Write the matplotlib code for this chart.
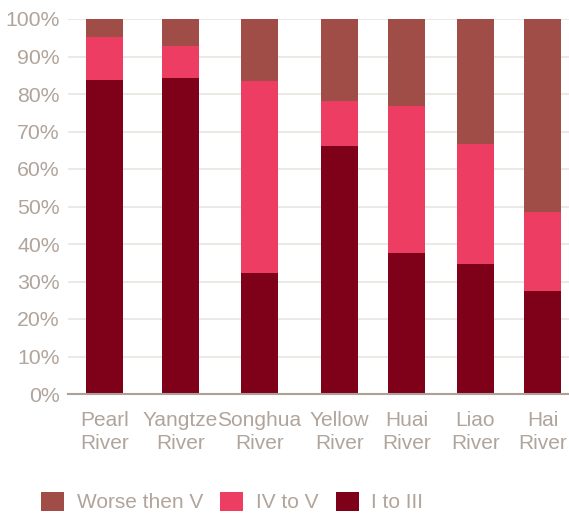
import matplotlib
matplotlib.use("Agg")
import matplotlib.pyplot as plt
from matplotlib.patches import Patch

rivers = ["Pearl\nRiver", "Yangtze\nRiver", "Songhua\nRiver", "Yellow\nRiver",
          "Huai\nRiver", "Liao\nRiver", "Hai\nRiver"]
grade_1_3 = [83.7, 84.3, 32.3, 66.1, 37.6, 34.7, 27.5]
grade_4_5 = [11.5, 8.6, 51.2, 12.0, 39.2, 32.0, 21.0]
worse_5 = [100 - a - b for a, b in zip(grade_1_3, grade_4_5)]

series_names = ["Worse then V", "IV to V", "I to III"]
colors = {"I to III": "#7e0019", "IV to V": "#ee3d63", "Worse then V": "#a14d47"}

# horizontal layout of the bars (axis units)
bar_pos = [36.5, 112.5, 191.5, 271.5, 338.5, 407.5, 474.5]
bar_width = 37

text_color = "#b0a49b"
plt.rcParams["font.family"] = ["Liberation Sans", "DejaVu Sans"]

W, H = 569, 513
fig = plt.figure(figsize=(W / 100, H / 100), dpi=100)
ax = fig.add_axes([68 / W, 1 - 394 / H, (W - 68) / W, (394 - 19) / H])

ax.bar(bar_pos, grade_1_3, width=bar_width, color=colors["I to III"], zorder=3)
ax.bar(bar_pos, grade_4_5, width=bar_width, bottom=grade_1_3,
       color=colors["IV to V"], zorder=3)
base = [a + b for a, b in zip(grade_1_3, grade_4_5)]
ax.bar(bar_pos, worse_5, width=bar_width, bottom=base,
       color=colors["Worse then V"], zorder=3)

ax.set_xlim(0, W - 68)
ax.set_ylim(0, 100)
ax.set_yticks(range(0, 101, 10))
ax.set_yticklabels([f"{v}%" for v in range(0, 101, 10)])
ax.yaxis.grid(True, color="#ece8e6", linewidth=1.5, zorder=0)
ax.set_axisbelow(True)
ax.set_xticks(bar_pos)
ax.set_xticklabels(rivers, linespacing=1.3)

for s in ["top", "right", "left"]:
    ax.spines[s].set_visible(False)
ax.spines["bottom"].set_color("#ada197")
ax.spines["bottom"].set_linewidth(1.5)
ax.spines["bottom"].set_zorder(4)

ax.tick_params(axis="y", length=0, pad=6, labelsize=15.3, labelcolor=text_color)
ax.tick_params(axis="x", length=0, pad=12, labelsize=15, labelcolor=text_color)

handles = [Patch(facecolor=colors[n], label=n) for n in series_names]
fig.legend(handles=handles, loc="center left",
           bbox_to_anchor=(41 / W, 1 - 502 / H), ncol=3, frameon=False,
           fontsize=15, labelcolor=text_color, handlelength=1.1,
           handleheight=1.05, handletextpad=0.62, columnspacing=0.82,
           borderpad=0, borderaxespad=0)

fig.savefig("out.png", dpi=100)
